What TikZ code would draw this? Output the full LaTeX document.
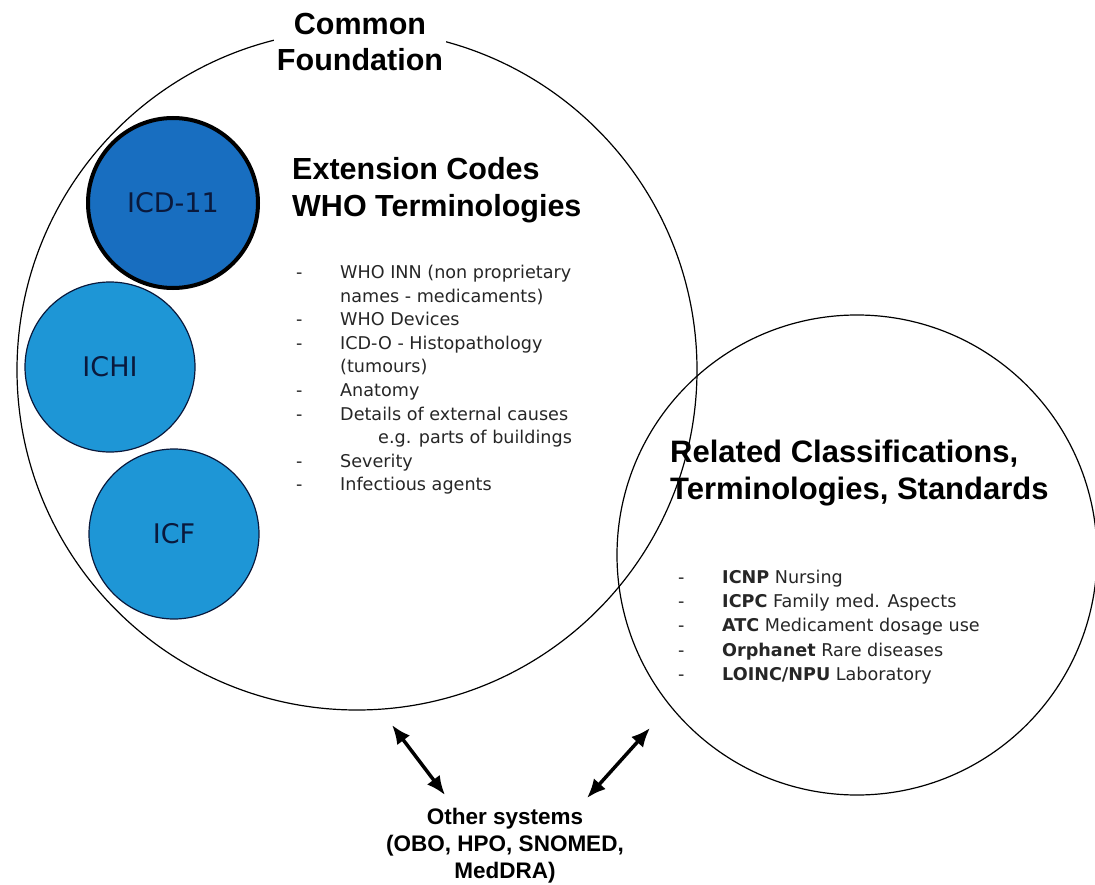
\documentclass[tikz,border=0pt]{standalone}
\usepackage{fontspec}
\setmainfont{Liberation Sans}
\newfontfamily\listfont{DejaVu Sans}
\usetikzlibrary{arrows.meta}

\definecolor{icddark}{RGB}{24,110,192}
\definecolor{iclight}{RGB}{30,150,214}
\definecolor{navy}{RGB}{10,25,60}

\newcommand{\itemdash}[1][44pt]{\makebox[#1][l]{-}}

\begin{document}
\begin{tikzpicture}[x=1pt,y=-1pt,
bigring/.style={circle,draw,line width=1.2pt,inner sep=0pt},
member/.style={circle,draw=navy,line width=1.2pt,fill=iclight,inner sep=0pt,
  minimum size=170pt,text=navy,font=\listfont\fontsize{27}{30}\selectfont},
heading/.style={font=\bfseries\fontsize{30.5}{36.5}\selectfont,inner sep=0pt},
items/.style={font=\listfont\fontsize{17.6}{23.6}\selectfont,align=left,
  inner sep=0pt,text=black!85},
link/.style={line width=3.5pt,{Latex[length=19pt,width=16pt]}-{Latex[length=19pt,width=16pt]}}]

\useasboundingbox (0,0) rectangle (1095,885);

% the two big rings
\node[bigring,minimum size=680pt] (found) at (357,370) {};
\node[bigring,minimum size=480pt] (related) at (857,555) {};

% classifications in the foundation
\node[member,fill=icddark,draw=black,line width=4pt] (icd) at (173,203) {ICD-11};
\node[member] (ichi) at (110,367) {ICHI};
\node[member] (icf) at (174,534) {ICF};

% headings
\node[heading,fill=white,align=center,inner sep=3pt] (foundtitle) at (360,42)
  {Common\\Foundation};
\node[heading,align=left,anchor=west] (exttitle) at (292,190)
  {Extension Codes\\WHO Terminologies};
\node[heading,align=left,anchor=west,font=\bfseries\fontsize{31}{37.5}\selectfont]
  (reltitle) at (670,473) {Related Classifications,\\Terminologies, Standards};

% lists
\node[items,anchor=north west] (extlist) at (296,265) {%
\itemdash WHO INN (non proprietary\\
\hspace*{44pt}names - medicaments)\\
\itemdash WHO Devices\\
\itemdash ICD-O - Histopathology\\
\hspace*{44pt}(tumours)\\
\itemdash Anatomy\\
\itemdash Details of external causes\\
\hspace*{82pt}e.g. parts of buildings\\
\itemdash Severity\\
\itemdash Infectious agents};

\node[items,anchor=north west,font=\listfont\fontsize{17.6}{24.2}\selectfont]
  (rellist) at (678,570) {%
\itemdash[44pt]\textbf{ICNP} Nursing\\
\itemdash[44pt]\textbf{ICPC} Family med. Aspects\\
\itemdash[44pt]\textbf{ATC} Medicament dosage use\\
\itemdash[44pt]\textbf{Orphanet} Rare diseases\\
\itemdash[44pt]\textbf{LOINC/NPU} Laboratory};

% other systems
\node[font=\bfseries\fontsize{22.5}{27}\selectfont,align=center,inner sep=0pt]
  (other) at (505,846) {Other systems\\(OBO, HPO, SNOMED,\\MedDRA)};

\coordinate (foundend) at (392,725);
\coordinate (otherleft) at (445,795);
\coordinate (relend) at (650,728);
\coordinate (otherright) at (587,798);
\draw[link] (foundend) -- (otherleft);
\draw[link] (relend) -- (otherright);
\end{tikzpicture}
\end{document}
